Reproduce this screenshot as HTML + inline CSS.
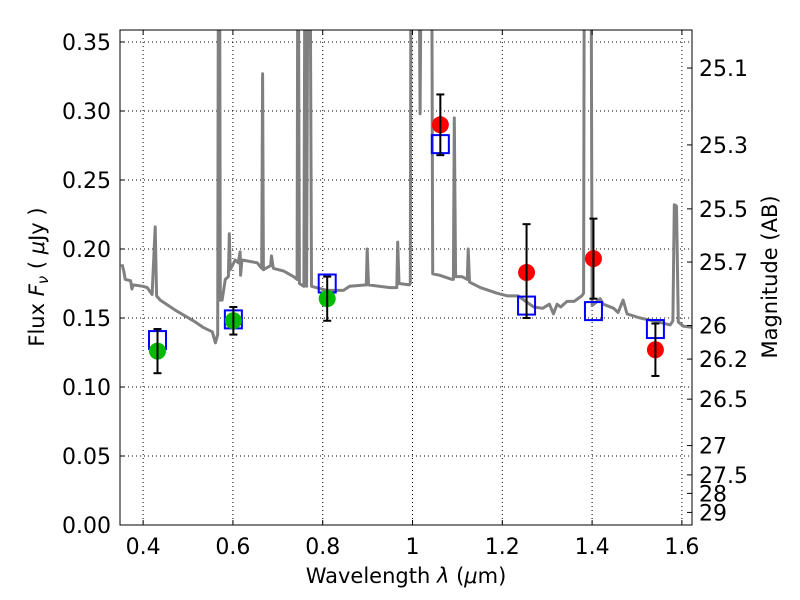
<!DOCTYPE html>
<html><head><meta charset="utf-8">
<style>
html,body{margin:0;padding:0;background:#fff;}
svg{display:block;font-family:"DejaVu Sans","Liberation Sans",sans-serif;}
</style></head>
<body>
<svg id="chart" width="800" height="600" viewBox="0 0 800 600" xmlns="http://www.w3.org/2000/svg">
<defs><clipPath id="clip"><rect x="120" y="30" width="572" height="495"/></clipPath></defs>
<g id="grid"></g>
<g id="spec" clip-path="url(#clip)"></g>
<g id="marks" clip-path="url(#clip)"></g>
<rect x="120" y="30" width="572" height="495" fill="none" stroke="#000" stroke-width="1"/>
<g id="axes"></g>
<text x="406" y="583" font-size="21" text-anchor="middle">Wavelength  <tspan font-style="italic">λ</tspan> (<tspan font-style="italic">μ</tspan>m)</text>
<text transform="translate(44,277) rotate(-90)" font-size="21" text-anchor="middle">Flux  <tspan font-style="italic">F<tspan font-size="15" dy="4">ν</tspan></tspan><tspan dy="-4">  ( </tspan><tspan font-style="italic">μ</tspan>Jy )</text>
<text transform="translate(777,277) rotate(-90)" font-size="21" text-anchor="middle">Magnitude (AB)</text>
</svg>
<script>
const xTicks = [0.4,0.6,0.8,1.0,1.2,1.4,1.6];
const xTickLabels = ["0.4","0.6","0.8","1","1.2","1.4","1.6"];
const yTicks = [0,0.05,0.10,0.15,0.20,0.25,0.30,0.35];
const yTickLabels = ["0.00","0.05","0.10","0.15","0.20","0.25","0.30","0.35"];
const magTicks = [25.1,25.3,25.5,25.7,26,26.2,26.5,27,27.5,28,29];
const magTickLabels = ["25.1","25.3","25.5","25.7","26","26.2","26.5","27","27.5","28","29"];
const specLam = [0.353,0.357,0.36,0.372,0.375,0.378,0.40,0.409,0.42,0.427,0.43,0.438,0.475,0.512,0.535,0.554,0.561,0.566,0.568,0.570,0.572,0.576,0.583,0.59,0.592,0.594,0.605,0.612,0.616,0.617,0.62,0.654,0.664,0.666,0.668,0.684,0.686,0.69,0.713,0.735,0.743,0.745,0.748,0.758,0.761,0.764,0.768,0.771,0.775,0.81,0.846,0.86,0.897,0.899,0.902,0.95,0.965,0.967,0.97,0.993,0.995,0.997,1.013,1.017,1.021,1.042,1.045,1.06,1.088,1.091,1.093,1.096,1.11,1.122,1.124,1.127,1.151,1.188,1.212,1.235,1.27,1.29,1.305,1.314,1.322,1.33,1.344,1.36,1.377,1.381,1.383,1.397,1.400,1.418,1.425,1.448,1.458,1.469,1.478,1.507,1.537,1.574,1.58,1.583,1.588,1.592,1.604,1.63];
const specFlux = [0.189,0.184,0.178,0.177,0.171,0.174,0.173,0.172,0.167,0.216,0.166,0.163,0.155,0.148,0.143,0.140,0.132,0.138,0.5,0.5,0.163,0.163,0.178,0.18,0.211,0.185,0.192,0.190,0.198,0.181,0.192,0.190,0.186,0.327,0.185,0.188,0.195,0.186,0.184,0.180,0.178,0.5,0.175,0.173,0.5,0.173,0.5,0.5,0.173,0.170,0.170,0.173,0.174,0.200,0.174,0.172,0.172,0.205,0.175,0.174,0.175,0.5,0.5,0.298,0.5,0.5,0.182,0.181,0.178,0.178,0.295,0.180,0.180,0.178,0.2,0.176,0.172,0.168,0.166,0.166,0.158,0.157,0.160,0.153,0.160,0.158,0.162,0.162,0.166,0.168,0.5,0.5,0.159,0.164,0.160,0.157,0.154,0.163,0.153,0.150,0.148,0.145,0.148,0.232,0.231,0.147,0.144,0.143];
const photLam = [0.432,0.601,0.81,1.062,1.254,1.403,1.541];
const photFlux = [0.126,0.148,0.164,0.290,0.183,0.193,0.127];
const photErrLo = [0.110,0.138,0.148,0.268,0.150,0.164,0.108];
const photErrHi = [0.142,0.158,0.180,0.312,0.218,0.222,0.146];
const photColor = ["#00bb00","#00bb00","#00bb00","#ff0000","#ff0000","#ff0000","#ff0000"];
const modelFlux = [0.134,0.149,0.175,0.276,0.159,0.155,0.142];

const NS="http://www.w3.org/2000/svg";
const X0=120,X1=692,Y0=525,Y1=30;
const xMin=0.3485,xMax=1.6225,yMin=0,yMax=0.3587;
const sx=v=>X0+(v-xMin)/(xMax-xMin)*(X1-X0);
const sy=v=>Y0-(v-yMin)/(yMax-yMin)*(Y0-Y1);
function mk(tag,attrs,parent){const e=document.createElementNS(NS,tag);for(const k in attrs)e.setAttribute(k,attrs[k]);parent.appendChild(e);return e;}
const grid=document.getElementById('grid'),axes=document.getElementById('axes');
xTicks.forEach((t,i)=>{
  const x=sx(t);
  const g=mk('line',{x1:x,x2:x,y1:Y1,y2:Y0,stroke:'#000','stroke-dasharray':'1,3','stroke-width':1},grid);
  
  
  mk('line',{x1:x,x2:x,y1:Y0,y2:Y0-5,stroke:'#000'},axes);
  mk('line',{x1:x,x2:x,y1:Y1,y2:Y1+5,stroke:'#000'},axes);
  const tx=mk('text',{x:x,y:Y0+29,'font-size':22,'text-anchor':'middle'},axes);
  tx.textContent=xTickLabels[i];
  
  
});
yTicks.forEach((t,i)=>{
  const y=sy(t);
  const g=mk('line',{x1:X0,x2:X1,y1:y,y2:y,stroke:'#000','stroke-dasharray':'1,3','stroke-width':1},grid);
  
  
  mk('line',{x1:X0,x2:X0+5,y1:y,y2:y,stroke:'#000'},axes);
  const tx=mk('text',{x:X0-9,y:y+8,'font-size':22,'text-anchor':'end'},axes);
  tx.textContent=yTickLabels[i];
  
  
});
magTicks.forEach((m,i)=>{
  const y=sy(Math.pow(10,(23.9-m)/2.5));
  mk('line',{x1:X1,x2:X1-5,y1:y,y2:y,stroke:'#000'},axes);
  const tx=mk('text',{x:X1+7,y:y+8,'font-size':22},axes);
  tx.textContent=magTickLabels[i];
  
  
});
const spec=document.getElementById('spec');
const p=mk('polyline',{points:specLam.map((l,i)=>sx(l).toFixed(1)+','+sy(specFlux[i]).toFixed(1)).join(' '),fill:'none',stroke:'#808080','stroke-width':3,'stroke-linejoin':'round'},spec);


const marks=document.getElementById('marks');
photLam.forEach((l,i)=>{
  const x=sx(l);
  const sq=mk('rect',{x:x-8.5,y:sy(modelFlux[i])-9,width:17,height:18,fill:'none',stroke:'#0000ff','stroke-width':2},marks);
  
  
  const c=mk('circle',{cx:x,cy:sy(photFlux[i]),r:8.5,fill:photColor[i]},marks);
  
  
  const eb=mk('g',{stroke:'#000','stroke-width':2},marks);
  
  
  mk('line',{x1:x,x2:x,y1:sy(photErrLo[i]),y2:sy(photErrHi[i])},eb);
  mk('line',{x1:x-4,x2:x+4,y1:sy(photErrLo[i]),y2:sy(photErrLo[i])},eb);
  mk('line',{x1:x-4,x2:x+4,y1:sy(photErrHi[i]),y2:sy(photErrHi[i])},eb);
});
</script>
</body></html>
